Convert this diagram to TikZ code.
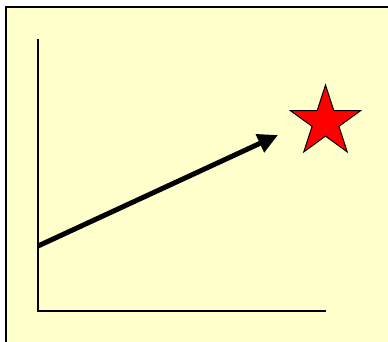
\documentclass[tikz,border=0pt]{standalone}
\usepackage{tikz}
\usetikzlibrary{arrows.meta,shapes.geometric}
\definecolor{paper}{RGB}{255,255,204}

\begin{document}
\begin{tikzpicture}[x=1pt,y=-1pt]
  \useasboundingbox (0,0) rectangle (388,341);
  \clip (0,0) rectangle (388,341);
  \fill[white] (0,0) rectangle (388,341);
  \draw[line width=2pt,fill=paper] (6,7) rectangle (400,360);
  \coordinate (ytop) at (38,39);
  \coordinate (O) at (38,311);
  \coordinate (xend) at (326,311);
  \draw[line width=2pt] (ytop) -- (O) -- (xend);
  \coordinate (start) at (38,246);
  \coordinate (tip) at (278,135);
  \draw[line width=5pt,-{Triangle[length=20pt,width=19pt]}] (start) -- (tip);
  \node[star,star points=5,star point ratio=2.618,minimum size=74pt,inner sep=0pt,
        draw,line width=1pt,fill=red] (goal) at (325.5,122) {};
\end{tikzpicture}
\end{document}
